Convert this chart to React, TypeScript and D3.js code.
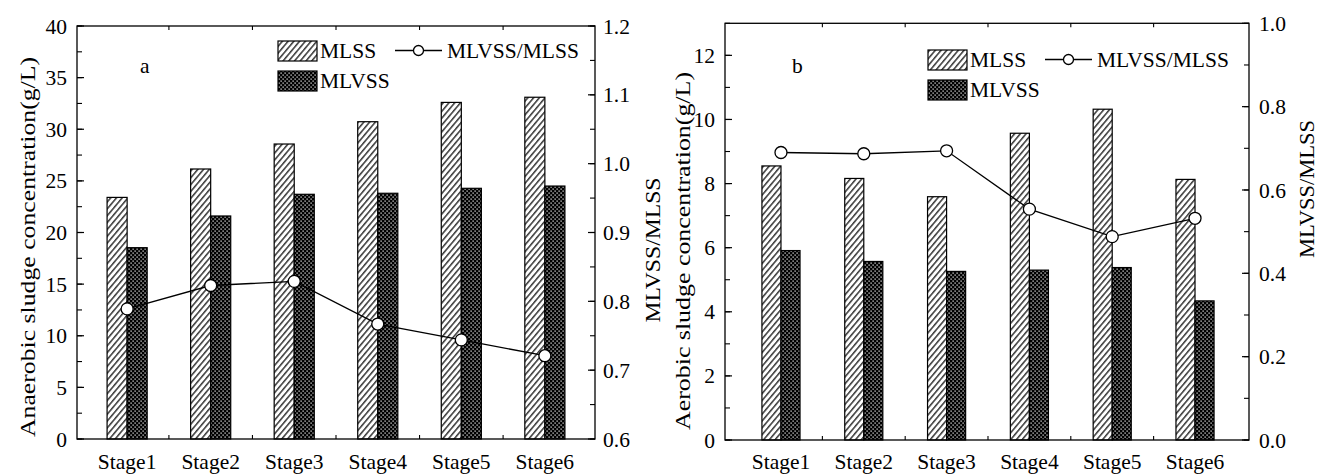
import React from "react";
import * as d3 from "d3";

const stages = ["Stage1", "Stage2", "Stage3", "Stage4", "Stage5", "Stage6"];

const mlssA = [23.4, 26.15, 28.57, 30.73, 32.6, 33.1];
const mlvssA = [18.53, 21.6, 23.7, 23.8, 24.28, 24.5];
const ratioA = [0.789, 0.823, 0.829, 0.767, 0.744, 0.721];

const mlssB = [8.55, 8.16, 7.59, 9.57, 10.32, 8.13];
const mlvssB = [5.91, 5.57, 5.26, 5.3, 5.38, 4.34];
const ratioB = [0.69, 0.687, 0.694, 0.554, 0.488, 0.532];

const leftTicksA = [0, 5, 10, 15, 20, 25, 30, 35, 40];
const rightTicksA = [0.6, 0.7, 0.8, 0.9, 1.0, 1.1, 1.2];
const leftTicksB = [0, 2, 4, 6, 8, 10, 12];
const rightTicksB = [0, 0.2, 0.4, 0.6, 0.8, 1.0];

const FONT = "Liberation Serif, DejaVu Serif, serif";
const TS: React.CSSProperties = { fontFamily: FONT };

type PanelProps = {
  id: string;
  letter: string;
  x0: number;
  x1: number;
  y0: number;
  y1: number;
  xDomain: [number, number];
  leftDomain: [number, number];
  rightDomain: [number, number];
  leftTicks: number[];
  leftMinorStep: number;
  rightTicks: number[];
  rightMinorStep: number;
  rightFmt: (v: number) => string;
  mlss: number[];
  mlvss: number[];
  ratio: number[];
  barUnits: number;
  leftTitle: string;
  leftTitleX: number;
  leftTitleY: number;
  leftTitleLen: number;
  rightTitleX: number;
  rightTitleY: number;
  rightTitleLen: number;
  legendX: number;
  legendY: number;
  letterX: number;
  letterY: number;
  leftLabelGap: number;
  rightLabelGap: number;
};

function Panel(p: PanelProps) {
  const x = d3.scaleLinear().domain(p.xDomain).range([p.x0, p.x1]);
  const yl = d3.scaleLinear().domain(p.leftDomain).range([p.y1, p.y0]);
  const yr = d3.scaleLinear().domain(p.rightDomain).range([p.y1, p.y0]);
  const bw = x(1 + p.barUnits) - x(1);
  const idx = stages.map((_, i) => i + 1);

  const leftMinor = d3.range(p.leftDomain[0], p.leftDomain[1] + 1e-9, p.leftMinorStep);
  const rightMinor = d3.range(p.rightDomain[0], p.rightDomain[1] + 1e-9, p.rightMinorStep);
  const catTicks = d3.range(1.5, stages.length, 1);

  const line = d3
    .line<number>()
    .x((_, i) => x(i + 1))
    .y((d) => yr(d));

  const fs = 21.5;
  const lx = p.legendX;
  const ly = p.legendY;

  return (
    <g>
      {idx.map((c, i) => (
        <g key={"b" + i}>
          <rect
            x={x(c) - bw}
            y={yl(p.mlss[i])}
            width={bw}
            height={yl(0) - yl(p.mlss[i])}
            fill={`url(#hatch-${p.id})`}
            stroke="#000"
            strokeWidth={1.2}
          />
          <rect
            x={x(c)}
            y={yl(p.mlvss[i])}
            width={bw}
            height={yl(0) - yl(p.mlvss[i])}
            fill={`url(#dots-${p.id})`}
            stroke="#000"
            strokeWidth={1.2}
          />
        </g>
      ))}

      <path d={line(p.ratio) || ""} fill="none" stroke="#000" strokeWidth={1.3} />
      {p.ratio.map((v, i) => (
        <circle key={"c" + i} cx={x(i + 1)} cy={yr(v)} r={6} fill="#fff" stroke="#000" strokeWidth={1.3} />
      ))}

      <rect x={p.x0} y={p.y0} width={p.x1 - p.x0} height={p.y1 - p.y0} fill="none" stroke="#000" strokeWidth={1.3} />

      {leftMinor.map((v, i) => (
        <line key={"lm" + i} x1={p.x0} x2={p.x0 + 5} y1={yl(v)} y2={yl(v)} stroke="#000" strokeWidth={1.1} />
      ))}
      {p.leftTicks.map((v, i) => (
        <g key={"lt" + i}>
          <line x1={p.x0} x2={p.x0 + 7} y1={yl(v)} y2={yl(v)} stroke="#000" strokeWidth={1.2} />
          <text x={p.x0 - p.leftLabelGap} y={yl(v)} dy="0.35em" textAnchor="end" fontSize={fs} style={TS}>
            {String(v)}
          </text>
        </g>
      ))}

      {rightMinor.map((v, i) => (
        <line key={"rm" + i} x1={p.x1} x2={p.x1 - 5} y1={yr(v)} y2={yr(v)} stroke="#000" strokeWidth={1.1} />
      ))}
      {p.rightTicks.map((v, i) => (
        <g key={"rt" + i}>
          <line x1={p.x1} x2={p.x1 - 7} y1={yr(v)} y2={yr(v)} stroke="#000" strokeWidth={1.2} />
          <text x={p.x1 + p.rightLabelGap} y={yr(v)} dy="0.35em" textAnchor="start" fontSize={fs} style={TS}>
            {p.rightFmt(v)}
          </text>
        </g>
      ))}

      {catTicks.map((v, i) => (
        <g key={"ct" + i}>
          <line x1={x(v)} x2={x(v)} y1={p.y1} y2={p.y1 - 4} stroke="#000" strokeWidth={1.1} />
          <line x1={x(v)} x2={x(v)} y1={p.y0} y2={p.y0 + 4} stroke="#000" strokeWidth={1.1} />
        </g>
      ))}

      {stages.map((s, i) => (
        <text key={"s" + i} x={x(i + 1)} y={469} textAnchor="middle" fontSize={fs} style={TS}>
          {s}
        </text>
      ))}

      <text
        transform={`translate(${p.leftTitleX},${p.leftTitleY}) rotate(-90)`}
        textAnchor="middle"
        fontSize={22}
        style={TS}
        textLength={p.leftTitleLen}
        lengthAdjust="spacingAndGlyphs"
      >
        {p.leftTitle}
      </text>
      <text
        transform={`translate(${p.rightTitleX},${p.rightTitleY}) rotate(-90)`}
        textAnchor="middle"
        fontSize={22}
        style={TS}
        textLength={p.rightTitleLen}
        lengthAdjust="spacingAndGlyphs"
      >
        MLVSS/MLSS
      </text>

      <text x={p.letterX} y={p.letterY} fontSize={fs} style={TS}>
        {p.letter}
      </text>

      <rect x={lx} y={ly} width={39} height={20} fill={`url(#hatch-${p.id})`} stroke="#000" strokeWidth={1.2} />
      <text x={lx + 42} y={ly + 16.5} fontSize={fs} style={TS}>
        MLSS
      </text>
      <line x1={lx + 117} x2={lx + 164} y1={ly + 9.5} y2={ly + 9.5} stroke="#000" strokeWidth={1.3} />
      <circle cx={lx + 140.5} cy={ly + 9.5} r={5} fill="#fff" stroke="#000" strokeWidth={1.3} />
      <text x={lx + 169} y={ly + 16.5} fontSize={fs} style={TS}>
        MLVSS/MLSS
      </text>
      <rect x={lx} y={ly + 30} width={39} height={20} fill={`url(#dots-${p.id})`} stroke="#000" strokeWidth={1.2} />
      <text x={lx + 42} y={ly + 47} fontSize={fs} style={TS}>
        MLVSS
      </text>
    </g>
  );
}

function Patterns({ id }: { id: string }) {
  return (
    <>
      <pattern
        id={`hatch-${id}`}
        patternUnits="userSpaceOnUse"
        width={4.4}
        height={4.4}
        patternTransform="rotate(40)"
      >
        <rect width={4.4} height={4.4} fill="#fff" />
        <line x1={0.8} y1={0} x2={0.8} y2={4.4} stroke="#000" strokeWidth={1.2} />
      </pattern>
      <pattern id={`dots-${id}`} patternUnits="userSpaceOnUse" width={4} height={4}>
        <rect width={4} height={4} fill="#000" />
        <rect x={0.5} y={0.5} width={1.2} height={1.2} fill="#fff" />
        <rect x={2.5} y={2.5} width={1.2} height={1.2} fill="#fff" />
      </pattern>
    </>
  );
}

export default function App() {
  const fmt1 = (v: number) => v.toFixed(1);
  return (
    <svg width={1318} height={475} style={{ position: "absolute", left: 0, top: 0, background: "#fff" }}>
      <defs>
        <Patterns id="a" />
        <Patterns id="b" />
      </defs>
      <rect width={1318} height={475} fill="#fff" />
      <Panel
        id="a"
        letter="a"
        x0={77}
        x1={595}
        y0={26}
        y1={439}
        xDomain={[0.4, 6.6]}
        leftDomain={[0, 40]}
        rightDomain={[0.6, 1.2]}
        leftTicks={leftTicksA}
        leftMinorStep={2.5}
        rightTicks={rightTicksA}
        rightMinorStep={0.05}
        rightFmt={fmt1}
        mlss={mlssA}
        mlvss={mlvssA}
        ratio={ratioA}
        barUnits={0.24}
        leftTitle="Anaerobic sludge concentration(g/L)"
        leftTitleX={35}
        leftTitleY={247}
        leftTitleLen={380}
        rightTitleX={660}
        rightTitleY={250}
        rightTitleLen={145}
        legendX={278}
        legendY={41}
        letterX={140}
        letterY={73}
        leftLabelGap={10}
        rightLabelGap={8}
      />
      <Panel
        id="b"
        letter="b"
        x0={725}
        x1={1249}
        y0={23.3}
        y1={440}
        xDomain={[0.324, 6.652]}
        leftDomain={[0, 13]}
        rightDomain={[0, 1]}
        leftTicks={leftTicksB}
        leftMinorStep={1}
        rightTicks={rightTicksB}
        rightMinorStep={0.1}
        rightFmt={fmt1}
        mlss={mlssB}
        mlvss={mlvssB}
        ratio={ratioB}
        barUnits={0.23}
        leftTitle="Aerobic sludge concentration(g/L)"
        leftTitleX={690}
        leftTitleY={251}
        leftTitleLen={358}
        rightTitleX={1314}
        rightTitleY={189}
        rightTitleLen={138}
        legendX={928}
        legendY={50}
        letterX={792}
        letterY={73}
        leftLabelGap={10}
        rightLabelGap={10}
      />
    </svg>
  );
}
